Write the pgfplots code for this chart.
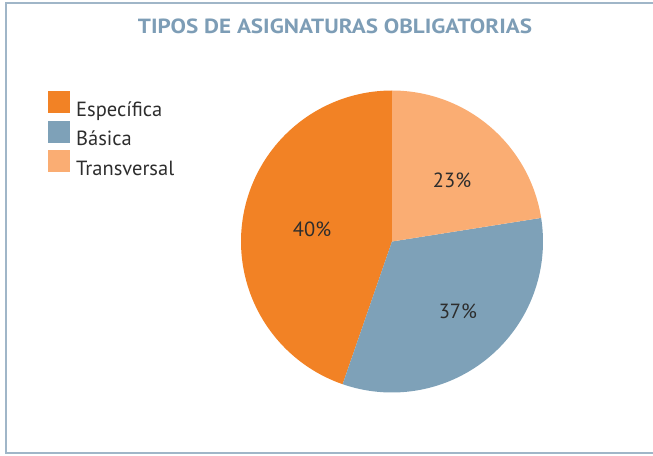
\documentclass[border=0pt]{standalone}
\usepackage{pgfplots}
\pgfplotsset{compat=1.18}
\usepgfplotslibrary{polar}
\usepackage{fontspec}
\setmainfont{PT Sans}
\definecolor{cEsp}{RGB}{242,130,37}
\definecolor{cBas}{RGB}{126,161,184}
\definecolor{cTra}{RGB}{250,173,115}
\definecolor{cTitle}{RGB}{125,157,182}
\definecolor{cFrame}{RGB}{160,182,200}
\definecolor{cText}{RGB}{45,45,45}
% shares of the drawn pie (percent)
\def\vEsp{44.7}
\def\vBas{32.8}
\def\vTra{22.5}
\pgfmathsetmacro{\aT}{90-3.6*\vTra}
\pgfmathsetmacro{\aB}{\aT-3.6*\vBas}
\pgfmathsetmacro{\aE}{90+3.6*\vEsp}
\begin{document}
\begin{tikzpicture}[x=1pt,y=1pt]
\useasboundingbox (0,0) rectangle (653,455);
\draw[cFrame, line width=1.3pt] (6,2) rectangle (680,452);
\node[text=cTitle, font=\fontsize{20.5}{24}\selectfont\bfseries] at (335,429) {\resizebox{394pt}{\height}{TIPOS DE ASIGNATURAS OBLIGATORIAS}};
\begin{polaraxis}[
  at={(392pt,213.5pt)}, anchor=origin,
  scale only axis, width=302pt, height=302pt,
  xmin=0, xmax=360, ymin=0, ymax=1,
  hide axis, clip=false,
  legend style={at={(-0.639,0.998)}, anchor=north west, draw=none, fill=none,
    font=\fontsize{20.5}{24}\selectfont, text=cText, row sep=0.5pt, inner sep=0pt,
    nodes={inner sep=0pt, outer sep=0pt, text height=18pt, text depth=4pt}},
  legend cell align=left,
  legend image code/.code={\fill[#1] (0pt,-4pt) rectangle (22pt,18pt);},
]
\addplot[draw=none, fill=cEsp, domain=90:\aE, samples=90] {1} -- (axis cs:0,0) -- cycle;
\addlegendentry{\hspace{6pt}Específica}
\addplot[draw=none, fill=cBas, domain=\aB:\aT, samples=90] {1} -- (axis cs:0,0) -- cycle;
\addlegendentry{\hspace{6pt}Básica}
\addplot[draw=none, fill=cTra, domain=\aT:90, samples=90] {1} -- (axis cs:0,0) -- cycle;
\addlegendentry{\hspace{6pt}Transversal}
\node[text=cText, font=\fontsize{20.5}{24}\selectfont] at (axis cs:171,0.536) {40\%};
\node[text=cText, font=\fontsize{20.5}{24}\selectfont] at (axis cs:-46.5,0.634) {37\%};
\node[text=cText, font=\fontsize{20.5}{24}\selectfont] at (axis cs:45.7,0.569) {23\%};
\end{polaraxis}
\end{tikzpicture}
\end{document}
